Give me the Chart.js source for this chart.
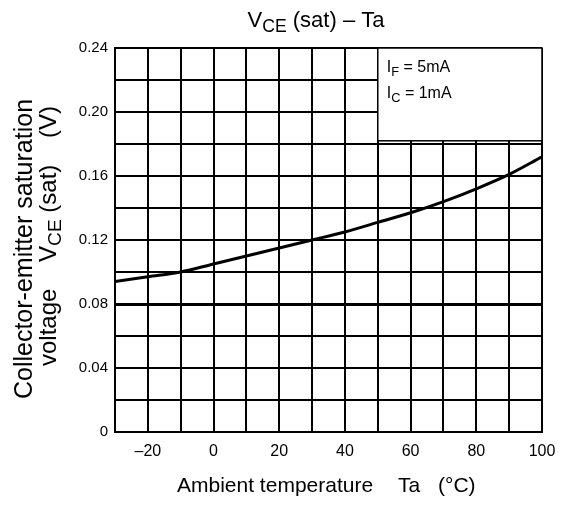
<!DOCTYPE html>
<html>
<head>
<meta charset="utf-8">
<script src="https://cdn.jsdelivr.net/npm/chart.js@4/dist/chart.umd.min.js"></script>
<style>
  html, body { margin: 0; padding: 0; background: #fff; }
</style>
</head>
<body>
<canvas id="chart" width="561" height="506"></canvas>
<script>
// VCE(sat) vs ambient temperature, IF = 5mA, IC = 1mA
const temps = [-30, -20, -10, 0, 10, 20, 30, 40, 50, 60, 70, 80, 90, 100];
const vceSat = [0.094, 0.097, 0.100, 0.105, 0.110, 0.115, 0.120, 0.125, 0.131, 0.137, 0.144, 0.152, 0.161, 0.172];
const xTickLabels = [-20, 0, 20, 40, 60, 80, 100];
const yTickLabels = [0, 0.04, 0.08, 0.12, 0.16, 0.20, 0.24];
const conditions = [['I', 'F', ' = 5mA'], ['I', 'C', ' = 1mA']];

const FONT = '"Liberation Sans", Arial, sans-serif';

// draw a run of text pieces, some of them as subscripts
const drawParts = (ctx, parts, x, y, size, align) => {
  const widths = parts.map(p => {
    ctx.font = `${p.sub ? size * 0.8 : size}px ${FONT}`;
    return ctx.measureText(p.t).width;
  });
  const total = widths.reduce((a, b) => a + b, 0);
  let cx = align === 'center' ? x - total / 2 : x;
  ctx.textAlign = 'left';
  ctx.textBaseline = 'alphabetic';
  parts.forEach((p, i) => {
    ctx.font = `${p.sub ? size * 0.8 : size}px ${FONT}`;
    ctx.fillText(p.t, cx, p.sub ? y + size * 0.22 : y);
    cx += widths[i];
  });
};

const textPlugin = {
  id: 'textPlugin',
  afterDraw(chart) {
    const ctx = chart.ctx;
    const xs = chart.scales.x;
    const ys = chart.scales.y;
    ctx.save();
    ctx.fillStyle = '#000';

    // conditions box in the upper right
    const bx = xs.getPixelForValue(50);
    const by = ys.getPixelForValue(0.24);
    const bw = xs.getPixelForValue(100) - bx;
    const bh = ys.getPixelForValue(0.182) - by;
    ctx.fillStyle = '#fff';
    ctx.fillRect(bx, by, bw, bh);
    ctx.strokeStyle = '#000';
    ctx.lineWidth = 1.5;
    ctx.strokeRect(bx, by, bw, bh);
    ctx.fillStyle = '#000';
    conditions.forEach((c, i) => {
      drawParts(ctx, [{ t: c[0] }, { t: c[1], sub: true }, { t: c[2] }], bx + 9, by + 24 + i * 26, 16, 'left');
    });

    // title
    drawParts(ctx, [{ t: 'V' }, { t: 'CE', sub: true }, { t: ' (sat) – Ta' }], 316, 27, 22, 'center');

    // x axis title
    drawParts(ctx, [{ t: 'Ambient temperature' }], 177, 492, 21, 'left');
    drawParts(ctx, [{ t: 'Ta' }], 398, 492, 21, 'left');
    drawParts(ctx, [{ t: '(°C)' }], 438, 492, 21, 'left');

    // y axis title, two rotated lines
    ctx.save();
    ctx.translate(32, 249);
    ctx.rotate(-Math.PI / 2);
    drawParts(ctx, [{ t: 'Collector-emitter saturation' }], 0, 0, 25, 'center');
    ctx.restore();
    ctx.save();
    ctx.translate(56, 236);
    ctx.rotate(-Math.PI / 2);
    drawParts(ctx, [{ t: 'voltage    V' }, { t: 'CE', sub: true }, { t: ' (sat)    (V)' }], 0, 0, 24, 'center');
    ctx.restore();

    ctx.restore();
  }
};

new Chart(document.getElementById('chart'), {
  type: 'scatter',
  data: {
    datasets: [{
      data: temps.map((t, i) => ({ x: t, y: vceSat[i] })),
      showLine: true,
      borderColor: '#000',
      borderWidth: 3,
      pointRadius: 0,
      cubicInterpolationMode: 'monotone'
    }]
  },
  options: {
    responsive: false,
    animation: false,
    layout: { padding: { left: 0, top: 48, right: 19, bottom: 0 } },
    plugins: { legend: { display: false }, tooltip: { enabled: false } },
    scales: {
      x: {
        type: 'linear',
        min: -30,
        max: 100,
        afterFit: scale => {
          scale.height = 74;
          scale.paddingLeft = 0;
          scale.paddingRight = 0;
        },
        border: { color: '#000', width: 2 },
        grid: { color: '#000', lineWidth: 2, drawTicks: false },
        ticks: {
          stepSize: 10,
          padding: 10,
          color: '#000',
          font: { family: FONT, size: 16 },
          maxRotation: 0,
          autoSkip: false,
          callback: v => xTickLabels.includes(v) ? (v < 0 ? '–' + Math.abs(v) : String(v)) : ''
        }
      },
      y: {
        min: 0,
        max: 0.24,
        afterFit: scale => {
          scale.width = 115;
          scale.paddingTop = 0;
          scale.paddingBottom = 0;
        },
        border: { color: '#000', width: 2 },
        grid: {
          color: '#000',
          drawTicks: false,
          lineWidth: c => (c.tick && Math.abs(c.tick.value - 0.08) < 1e-6) ? 3 : 2
        },
        ticks: {
          stepSize: 0.02,
          padding: 7,
          color: '#000',
          font: { family: FONT, size: 15 },
          autoSkip: false,
          callback: v => {
            const hit = yTickLabels.find(t => Math.abs(t - v) < 1e-6);
            if (hit === undefined) return '';
            return hit === 0 ? '0' : hit.toFixed(2);
          }
        }
      }
    }
  },
  plugins: [textPlugin]
});
</script>
</body>
</html>
